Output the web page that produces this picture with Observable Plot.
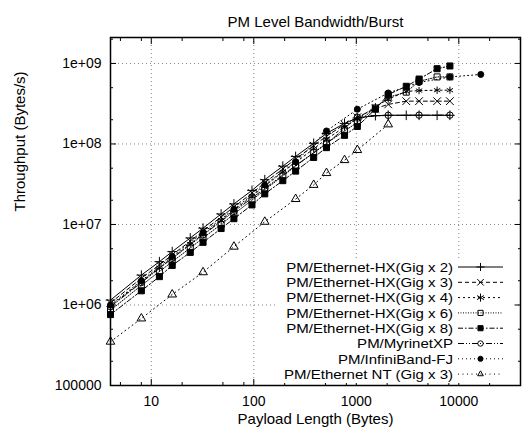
<!DOCTYPE html>
<html><head><meta charset="utf-8">
<script src="https://cdn.jsdelivr.net/npm/d3@7"></script>
<script src="https://cdn.jsdelivr.net/npm/@observablehq/plot@0.6"></script>
<style>body{margin:0;background:#fff;font-family:"Liberation Sans",Arial,sans-serif}</style>
</head><body><div id="chart"></div>
<script>
// ---- data ----
const sizesHX = [4, 8, 12, 16, 24, 32, 48, 64, 96, 128, 192, 256, 384, 512, 768, 1024, 1536, 2048, 3072, 4096, 6144, 8192];
const gigX2 = [1.15e6, 2.35e6, 3.45e6, 4.6e6, 6.8e6, 9.0e6, 1.35e7, 1.8e7, 2.65e7, 3.6e7, 5.3e7, 7.0e7, 1.02e8, 1.35e8, 1.8e8, 2.1e8, 2.25e8, 2.27e8, 2.27e8, 2.27e8, 2.27e8, 2.27e8];
const gigX3 = [1.06e6, 2.15e6, 3.15e6, 4.2e6, 6.2e6, 8.3e6, 1.24e7, 1.65e7, 2.45e7, 3.3e7, 4.9e7, 6.5e7, 9.5e7, 1.25e8, 1.75e8, 2.15e8, 2.75e8, 3.1e8, 3.4e8, 3.4e8, 3.4e8, 3.4e8];
const gigX4 = [9.7e5, 1.95e6, 2.9e6, 3.85e6, 5.7e6, 7.6e6, 1.13e7, 1.5e7, 2.25e7, 3.0e7, 4.5e7, 5.9e7, 8.7e7, 1.15e8, 1.62e8, 2.05e8, 2.9e8, 3.6e8, 4.5e8, 4.6e8, 4.65e8, 4.65e8];
const gigX6 = [8.6e5, 1.75e6, 2.6e6, 3.45e6, 5.1e6, 6.8e6, 1.0e7, 1.35e7, 2.0e7, 2.7e7, 4.0e7, 5.3e7, 7.8e7, 1.02e8, 1.45e8, 1.85e8, 2.8e8, 3.8e8, 4.4e8, 6.0e8, 6.8e8, 6.8e8];
const gigX8 = [7.6e5, 1.5e6, 2.25e6, 3.1e6, 4.5e6, 6.0e6, 8.9e6, 1.18e7, 1.75e7, 2.4e7, 3.5e7, 4.6e7, 6.8e7, 9.0e7, 1.28e8, 1.65e8, 2.7e8, 4.1e8, 5.2e8, 6.4e8, 8.6e8, 9.3e8];
const sizesMyr = [4, 8, 16, 32, 64, 128, 256, 512, 1024, 2048, 4096, 8192];
const myrinetXP = [9.5e5, 1.9e6, 3.8e6, 7.4e6, 1.45e7, 2.8e7, 5.4e7, 1.0e8, 2.15e8, 2.27e8, 2.28e8, 2.28e8];
const sizesIB = [4, 8, 16, 32, 64, 128, 256, 512, 1024, 2048, 4096, 8192, 16384];
const infiniBand = [1.0e6, 2.0e6, 4.0e6, 7.9e6, 1.55e7, 3.1e7, 6.0e7, 1.45e8, 2.7e8, 4.3e8, 5.8e8, 6.8e8, 7.3e8];
const sizesNT = [4, 8, 16, 32, 64, 128, 256, 384, 512, 768, 1024, 2048];
const ethernetNT = [3.5e5, 6.8e5, 1.35e6, 2.55e6, 5.3e6, 1.08e7, 2.07e7, 3.1e7, 4.35e7, 6.3e7, 8.4e7, 1.75e8];

const seriesNames = ["PM/Ethernet-HX(Gig x 2)", "PM/Ethernet-HX(Gig x 3)", "PM/Ethernet-HX(Gig x 4)", "PM/Ethernet-HX(Gig x 6)", "PM/Ethernet-HX(Gig x 8)", "PM/MyrinetXP", "PM/InfiniBand-FJ", "PM/Ethernet NT (Gig x 3)"];
const xTicks = [10, 100, 1000, 10000];
const xTickLabels = ["10", "100", "1000", "10000"];
const yTicks = [1e5, 1e6, 1e7, 1e8, 1e9];
const yTickLabels = ["100000", "1e+06", "1e+07", "1e+08", "1e+09"];
const xMinor = [5, 8, 20, 50, 80, 200, 500, 800, 2000, 5000, 8000, 20000];
const yMinor = [2e5, 5e5, 2e6, 5e6, 2e7, 5e7, 2e8, 5e8, 2e9];
const titleText = "PM Level Bandwidth/Burst";
const xTitle = "Payload Length (Bytes)";
const yTitle = "Throughput (Bytes/s)";

// ---- styles ----
const seriesX = [sizesHX, sizesHX, sizesHX, sizesHX, sizesHX, sizesMyr, sizesIB, sizesNT];
const seriesY = [gigX2, gigX3, gigX4, gigX6, gigX8, myrinetXP, infiniBand, ethernetNT];
const styles = [
  {symbol: "plus", fill: "none", dash: null, r: 3.2},
  {symbol: "times", fill: "none", dash: "4,3", r: 3.6},
  {symbol: "asterisk", fill: "none", dash: "2,3", r: 3.4},
  {symbol: "square", fill: "none", dash: "1,1.5", r: 3.4},
  {symbol: "square", fill: "black", dash: "5,2,1.5,2", r: 3.4},
  {symbol: "circle", fill: "none", dash: "6,2,1,2,1,2", r: 3.2},
  {symbol: "circle", fill: "black", dash: "1,3", r: 3.0},
  {symbol: "triangle", fill: "none", dash: "1,3.5", r: 3.2}
];

const table = [];
seriesNames.forEach((name, k) => {
  seriesX[k].forEach((s, i) => table.push({series: name, k, size: s, bw: seriesY[k][i]}));
});

const lineMarks = [], dotMarks = [];
seriesNames.forEach((name, k) => {
  const rows = table.filter(d => d.k === k);
  const st = styles[k];
  lineMarks.push(Plot.line(rows, {x: "size", y: "bw", stroke: "black", strokeWidth: 1, strokeDasharray: st.dash}));
  dotMarks.push(Plot.dot(rows, {x: "size", y: "bw", symbol: st.symbol, r: st.r, fill: st.fill, stroke: "black", strokeWidth: 1}));
});

const gridStyle = {stroke: "#666", strokeOpacity: 1, strokeWidth: 0.8, strokeDasharray: "1,3"};
const chart = Plot.plot({
  width: 524, height: 433,
  marginLeft: 110, marginRight: 4, marginTop: 37, marginBottom: 48,
  style: {fontFamily: "'Liberation Sans', Arial, sans-serif", fontSize: "14px", background: "white", color: "black"},
  x: {type: "log", domain: [4, 40000], label: null},
  y: {type: "log", domain: [1e5, 2.1e9], label: null},
  marks: [
    Plot.gridX(xTicks, gridStyle),
    Plot.gridY(yTicks.slice(1), gridStyle),
    ...lineMarks,
    ...dotMarks,
    Plot.axisX(xTicks, {anchor: "bottom", tickSize: 0, tickPadding: 11, label: null, fontSize: 14, tickFormat: d => xTickLabels[xTicks.indexOf(d)]}),
    Plot.axisY(yTicks, {anchor: "left", tickSize: 0, tickPadding: 9, label: null, fontSize: 14, tickFormat: d => yTickLabels[yTicks.indexOf(d)]}),
    Plot.axisX(xTicks, {anchor: "bottom", tickSize: -6, fill: "none", label: null}),
    Plot.axisX(xTicks, {anchor: "top", tickSize: -6, fill: "none", label: null}),
    Plot.axisX(xMinor, {anchor: "bottom", tickSize: -3, fill: "none", label: null}),
    Plot.axisX(xMinor, {anchor: "top", tickSize: -3, fill: "none", label: null}),
    Plot.axisY(yTicks, {anchor: "left", tickSize: -6, fill: "none", label: null}),
    Plot.axisY(yTicks, {anchor: "right", tickSize: -6, fill: "none", label: null}),
    Plot.axisY(yMinor, {anchor: "left", tickSize: -3, fill: "none", label: null}),
    Plot.axisY(yMinor, {anchor: "right", tickSize: -3, fill: "none", label: null}),
    Plot.frame({stroke: "black", strokeWidth: 1.5}),
    Plot.text([titleText], {frameAnchor: "top", dy: -21, fontSize: 15}),
    Plot.text([xTitle], {frameAnchor: "bottom", dy: 38, fontSize: 15}),
    Plot.text([yTitle], {frameAnchor: "left", dx: -90, rotate: -90, fontSize: 15})
  ]
});
document.getElementById("chart").appendChild(chart);

// ---- legend (key) ----
const svg = d3.select(chart);
const key = svg.append("g").attr("font-family", "'Liberation Sans', Arial, sans-serif").attr("font-size", 13.5);
key.append("rect").attr("x", 278).attr("y", 258).attr("width", 234).attr("height", 125).attr("fill", "white");
function symbolPath(name, r) {
  const area = Math.PI * r * r;
  if (name === "asterisk") {
    const a = r * 1.4;
    const p = [];
    for (const ang of [90, 30, -30]) {
      const t = ang * Math.PI / 180, dx = a * Math.cos(t), dy = a * Math.sin(t);
      p.push(`M${-dx},${-dy}L${dx},${dy}`);
    }
    return p.join("");
  }
  const map = {plus: d3.symbolPlus, times: d3.symbolTimes, square: d3.symbolSquare, circle: d3.symbolCircle, triangle: d3.symbolTriangle2};
  return d3.symbol(map[name], area)();
}
seriesNames.forEach((name, k) => {
  const y = 267 + 15.3 * k;
  const st = styles[k];
  const t = key.append("text").attr("x", 453).attr("y", y).attr("dy", "0.35em").attr("text-anchor", "end").attr("fill", "black").text(name);
  const natural = t.node().getComputedTextLength();
  if (natural > 0) t.attr("textLength", natural * 15 / 13.5).attr("lengthAdjust", "spacingAndGlyphs");
  key.append("line").attr("x1", 458).attr("x2", 503).attr("y1", y).attr("y2", y).attr("stroke", "black").attr("stroke-width", 1).attr("stroke-dasharray", st.dash);
  key.append("path").attr("transform", `translate(480.5,${y})`).attr("d", symbolPath(st.symbol, st.r * 0.85))
    .attr("fill", st.fill).attr("stroke", "black").attr("stroke-width", 1);
});
</script></body></html>
